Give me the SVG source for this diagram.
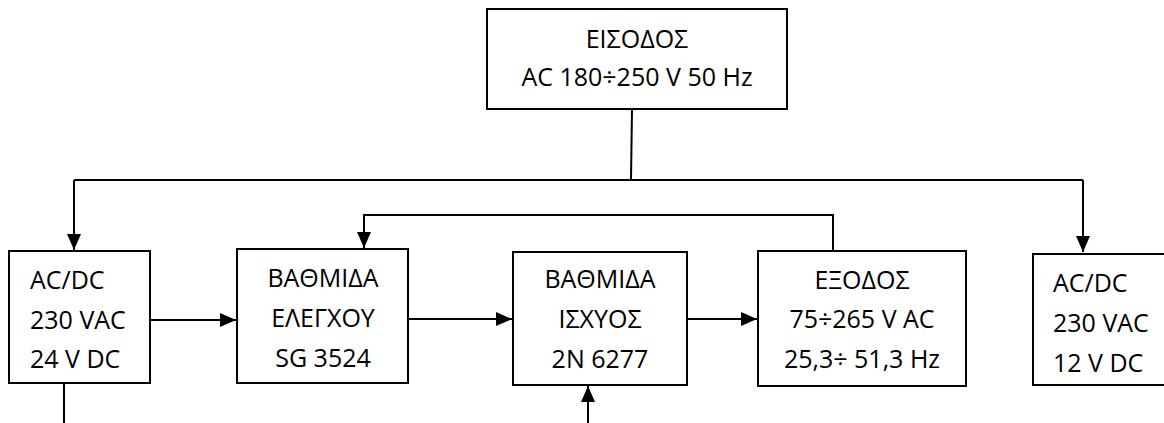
<svg xmlns="http://www.w3.org/2000/svg" width="1164" height="423" viewBox="0 0 1164 423">
<style>
.box{fill:#fff;stroke:#000;stroke-width:2}
.ln{fill:none;stroke:#000;stroke-width:2}
text{font-family:"Open Sans","Noto Sans","DejaVu Sans",sans-serif;font-size:25px;fill:#000}
.c{text-anchor:middle}
</style>
<defs>
<marker id="ah" viewBox="0 0 16 14" refX="16" refY="7" markerWidth="16" markerHeight="14" markerUnits="userSpaceOnUse" orient="auto">
<path d="M0,0 L16,7 L0,14 Z" fill="#000"/>
</marker>
</defs>
<rect width="1164" height="423" fill="#fff"/>
<g id="connectors">
<path class="ln" d="M632,109 L631,180"/>
<path class="ln" d="M74,180 L1083,180"/>
<path class="ln" d="M74,180 L74,250" marker-end="url(#ah)"/>
<path class="ln" d="M1083,180 L1083,252" marker-end="url(#ah)"/>
<path class="ln" d="M833,251 L833,215 L364,215 L364,248" marker-end="url(#ah)"/>
<path class="ln" d="M150,320 L236,320" marker-end="url(#ah)"/>
<path class="ln" d="M408,319 L512,319" marker-end="url(#ah)"/>
<path class="ln" d="M687,319 L757,319" marker-end="url(#ah)"/>
<path class="ln" d="M64,383 L64,423"/>
<path class="ln" d="M588,423 L588,386" marker-end="url(#ah)"/>
</g>
<g id="input">
<rect class="box" x="487" y="9" width="300" height="100"/>
<text class="c" x="637" y="48">ΕΙΣΟΔΟΣ</text>
<text class="c" x="637" y="86">AC 180÷250 V 50 Hz</text>
</g>
<g id="acdc24">
<rect class="box" x="9" y="251" width="141" height="132"/>
<text x="30" y="289">AC/DC</text>
<text x="30" y="329">230 VAC</text>
<text x="30" y="368">24 V DC</text>
</g>
<g id="control">
<rect class="box" x="237" y="249" width="171" height="134"/>
<text class="c" x="323" y="287">ΒΑΘΜΙΔΑ</text>
<text class="c" x="323" y="327">ΕΛΕΓΧΟΥ</text>
<text class="c" x="323" y="367">SG 3524</text>
</g>
<g id="power">
<rect class="box" x="513" y="252" width="174" height="133"/>
<text class="c" x="600" y="288">ΒΑΘΜΙΔΑ</text>
<text class="c" x="600" y="328">ΙΣΧΥΟΣ</text>
<text class="c" x="600" y="368">2N 6277</text>
</g>
<g id="output">
<rect class="box" x="758" y="251" width="208" height="135"/>
<text class="c" x="862" y="289">ΕΞΟΔΟΣ</text>
<text class="c" x="862" y="328">75÷265 V AC</text>
<text class="c" x="862" y="368">25,3÷ 51,3 Hz</text>
</g>
<g id="acdc12">
<rect class="box" x="1033" y="254" width="140" height="131"/>
<text x="1053" y="292">AC/DC</text>
<text x="1053" y="332">230 VAC</text>
<text x="1053" y="372">12 V DC</text>
</g>
</svg>
